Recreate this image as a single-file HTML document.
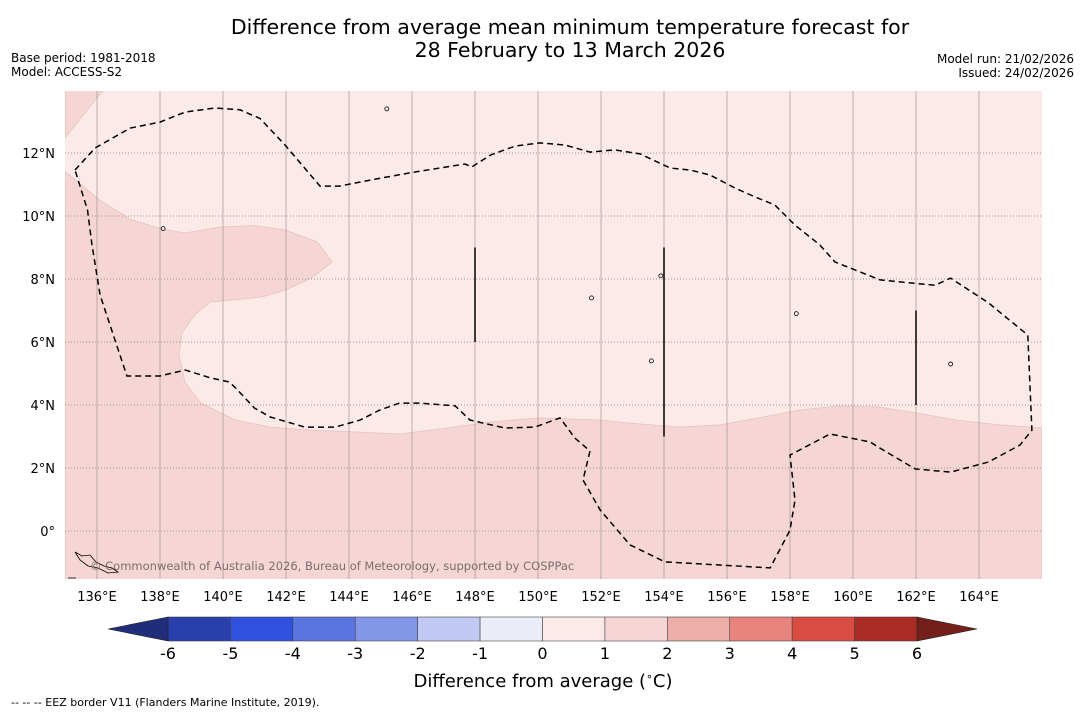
<!DOCTYPE html>
<html><head><meta charset="utf-8"><style>
body{margin:0;background:#fff;width:1085px;height:713px;overflow:hidden;font-family:"DejaVu Sans","Liberation Sans",sans-serif;}
svg{position:absolute;left:0;top:0}
</style></head><body>
<svg id="chart" width="1085" height="713">
<text x="570" y="34" text-anchor="middle" font-size="20.5">Difference from average mean minimum temperature forecast for</text>
<text x="570" y="57" text-anchor="middle" font-size="20.5">28 February to 13 March 2026</text>
<text x="11" y="62" font-size="12">Base period: 1981-2018</text>
<text x="11" y="76" font-size="12">Model: ACCESS-S2</text>
<text x="1074" y="63" font-size="12" text-anchor="end">Model run: 21/02/2026</text>
<text x="1074" y="77" font-size="12" text-anchor="end">Issued: 24/02/2026</text>
<g id="map"></g>
<g id="cbar"></g>
<text x="543" y="687" text-anchor="middle" font-size="18">Difference from average (<tspan font-size="11" dy="-7">∘</tspan><tspan dy="7">C)</tspan></text>
<text x="11" y="706" font-size="11">--  --  -- EEZ border V11 (Flanders Marine Institute, 2019).</text>
</svg>
<script>
const lonTicks=[136,138,140,142,144,146,148,150,152,154,156,158,160,162,164];
const latTicks=[0,2,4,6,8,10,12];
const levels=[-6,-5,-4,-3,-2,-1,0,1,2,3,4,5,6];
const levelColors=["#2a3fae","#3050e0","#5a74e2","#8396e8","#c2c9f2","#eaecf8","#fbeae8","#f5d6d5","#ecaea8","#e8847d","#da4b42","#ab2c25"];
const anomalyLon=[135,136.1,137.05,138,138.8,139.9,141,141.97,143,143.46,142.8,141.97,141.24,139.6,139.1,138.7,138.6,138.8,139.3,140.4,141.5,142.76,144.35,145.6,146.9,148.5,150.06,151.97,153.2,154.5,155.8,157,158.3,159.55,160.8,162,163.3,164.6,166,166,135];
const anomalyLat=[11.4,10.5,9.9,9.6,9.46,9.65,9.7,9.56,9.17,8.54,8.03,7.65,7.43,7.27,6.86,6.29,5.59,4.7,4.06,3.52,3.3,3.2,3.14,3.08,3.24,3.46,3.59,3.52,3.4,3.3,3.37,3.59,3.84,3.97,3.94,3.75,3.52,3.37,3.27,-1.55,-1.55];
const cornerLon=[135,136.2,135];
const cornerLat=[14,14,12.5];
const eezLon=[135.3,135.94,137.05,138,138.8,139.75,140.54,141.17,141.97,143.08,143.7,144.67,145.94,147.68,147.9,148.5,149.27,150.06,150.86,151.65,152.44,153.24,154.2,154.83,155.46,156.25,156.9,157.52,158.16,158.95,159.43,160.86,162.6,163.1,164.3,165.55,165.68,165.3,164.3,163.1,161.97,160.86,160.54,159.27,158,158.16,158,157.37,154.03,152.92,151.97,151.43,151.65,151.17,150.7,149.9,148.95,147.84,147.37,146.25,145.6,144.98,144.35,143.56,142.6,141.5,141,140.4,140.2,139.6,138.8,138,136.95,136.1,135.84,135.7,135.3];
const eezLat=[11.46,12.16,12.79,12.98,13.3,13.43,13.37,13.1,12.25,10.95,10.95,11.14,11.37,11.65,11.56,11.94,12.22,12.32,12.25,12.03,12.1,11.97,11.52,11.46,11.3,10.89,10.6,10.35,9.71,9.08,8.54,7.97,7.8,8.03,7.24,6.22,3.2,2.73,2.19,1.87,1.97,2.63,2.83,3.08,2.41,0.98,0.03,-1.17,-0.98,-0.44,0.67,1.62,2.54,2.95,3.59,3.3,3.27,3.52,3.97,4.06,4.06,3.84,3.52,3.3,3.3,3.62,3.9,4.54,4.73,4.86,5.11,4.92,4.92,7.49,9.08,10.19,11.46];
const segLon=[148,154,162];
const segLat1=[9,9,7];
const segLat2=[6,3,4];
const islandLon=[145.2,138.1,153.9,158.2,151.7,163.1,153.6];
const islandLat=[13.4,9.6,8.1,6.9,7.4,5.3,5.4];

const NS="http://www.w3.org/2000/svg";
const X0=65.5,Y0=531,K=31.5,L=65,R=1042,T=91,B=579;
const px=lon=>X0+(lon-135)*K, py=lat=>Y0-lat*K;
const map=document.getElementById('map');
function mk(tag,at,parent){const e=document.createElementNS(NS,tag);for(const k in at)e.setAttribute(k,at[k]);(parent||map).appendChild(e);return e;}
function pts(lo,la){return lo.map((v,i)=>px(v).toFixed(1)+','+py(la[i]).toFixed(1)).join(' ');}
const clip=mk('clipPath',{id:'mc'});mk('rect',{x:L,y:T,width:R-L,height:B-T},clip);
const g=mk('g',{'clip-path':'url(#mc)'});
let e=mk('rect',{x:L,y:T,width:R-L,height:B-T,fill:levelColors[6]},g);


e=mk('polygon',{points:pts(anomalyLon,anomalyLat),fill:levelColors[7],stroke:'#e6c2c0','stroke-width':0.8},g);


e=mk('polygon',{points:pts(cornerLon,cornerLat),fill:levelColors[7],stroke:'#e6c2c0','stroke-width':0.8},g);


lonTicks.forEach(v=>{
 e=mk('line',{x1:px(v),x2:px(v),y1:T,y2:B,stroke:'#938585','stroke-width':0.6},g);
 
 
 e=mk('text',{x:px(v),y:B+22,'text-anchor':'middle','font-size':13});e.textContent=v+'°E';
 
 
});
latTicks.forEach(v=>{
 e=mk('line',{x1:L,x2:R,y1:py(v),y2:py(v),stroke:'#8a7a7a','stroke-width':0.7,'stroke-dasharray':'1,2'},g);
 
 
 e=mk('text',{x:55,y:py(v)+5,'text-anchor':'end','font-size':13});e.textContent=v===0?'0°':v+'°N';
 
 
});
e=mk('polygon',{points:pts(eezLon,eezLat),fill:'none',stroke:'#000','stroke-width':1.5,'stroke-dasharray':'6,4'},g);


segLon.forEach((v,i)=>{
 e=mk('line',{x1:px(v),x2:px(v),y1:py(segLat1[i]),y2:py(segLat2[i]),stroke:'#000','stroke-width':1.5},g);
 
 
});
islandLon.forEach((v,i)=>{
 e=mk('circle',{cx:px(v),cy:py(islandLat[i]),r:2,fill:'none',stroke:'#000','stroke-width':0.8},g);
 
 
});
e=mk('path',{d:'M75,552 L82,556 L90,555 L96,562 L104,566 L112,568 L118,572 L108,573 L98,568 L88,566 L80,560 Z M68,578 L76,578',fill:'none',stroke:'#000','stroke-width':0.8},g);


e=mk('text',{x:90,y:570,'font-size':11.5,fill:'#7a6e6e'},g);e.textContent='© Commonwealth of Australia 2026, Bureau of Meteorology, supported by COSPPac';



const cb=document.getElementById('cbar');
const CX0=168,CX1=917,CY=617,CH=24,cx=v=>CX0+(v+6)/12*(CX1-CX0);
for(let i=0;i<levelColors.length;i++){
 e=mk('rect',{x:cx(levels[i]),y:CY,width:cx(levels[i+1])-cx(levels[i]),height:CH,fill:levelColors[i],stroke:'#444','stroke-width':0.6},cb);
 
 
}
e=mk('polygon',{points:`${CX0},${CY} 108,${CY+CH/2} ${CX0},${CY+CH}`,fill:'#1f2d7b',stroke:'#222','stroke-width':0.6},cb);


e=mk('polygon',{points:`${CX1},${CY} 977,${CY+CH/2} ${CX1},${CY+CH}`,fill:'#741f1a',stroke:'#222','stroke-width':0.6},cb);


levels.forEach(v=>{
 e=mk('text',{x:cx(v),y:CY+CH+18,'text-anchor':'middle','font-size':16},cb);e.textContent=v;
 
 
});
</script>
</body></html>
